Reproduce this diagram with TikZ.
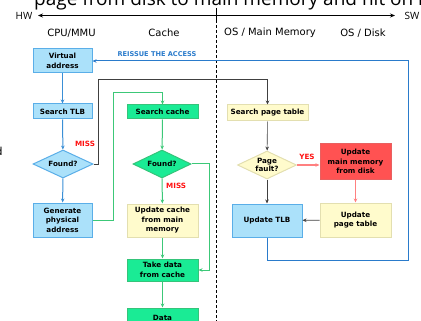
\documentclass[tikz,border=0pt]{standalone}
\usepackage{fontspec}
\setmainfont{DejaVu Sans}
\newfontfamily\titlefont{Open Sans}
\usetikzlibrary{shapes.geometric,arrows.meta}

\definecolor{tlbfill}{HTML}{ABE1FA}
\definecolor{tlbdraw}{HTML}{5AAEE8}
\definecolor{tlbline}{HTML}{3A8FD6}
\definecolor{cachefill}{HTML}{1AEB95}
\definecolor{cachedraw}{HTML}{35C47A}
\definecolor{cacheline}{HTML}{3CC878}
\definecolor{memfill}{HTML}{FFFBCC}
\definecolor{memdraw}{HTML}{E3DFB0}
\definecolor{diskfill}{HTML}{FF5252}
\definecolor{diskdraw}{HTML}{E86060}
\definecolor{diskline}{HTML}{FF8080}
\definecolor{ctrlline}{HTML}{404040}
\definecolor{reissue}{HTML}{2A7BCB}
\definecolor{misscol}{HTML}{FF1010}

\tikzset{
  boxfont/.style={font=\fontsize{7.2}{9.5}\selectfont\bfseries},
  box/.style={rectangle, line width=1pt, inner sep=0pt, align=center, boxfont},
  tlbbox/.style={box, fill=tlbfill, draw=tlbdraw},
  cachebox/.style={box, fill=cachefill, draw=cachedraw},
  membox/.style={box, fill=memfill, draw=memdraw},
  diskbox/.style={box, fill=diskfill, draw=diskdraw},
  decision/.style={diamond, shape aspect=2, inner sep=0pt, line width=1pt,
    minimum width=60pt, minimum height=28pt, align=center,
    font=\fontsize{7.2}{8.5}\selectfont\bfseries},
  tip/.style={-{Stealth[length=4pt,width=3.5pt]}},
  blueflow/.style={tip, draw=tlbline, line width=1pt},
  greenflow/.style={tip, draw=cacheline, line width=1pt},
  ctrlflow/.style={tip, draw=ctrlline, line width=0.6pt},
  diskflow/.style={tip, draw=diskline, line width=1pt},
  reissueflow/.style={tip, draw=reissue, line width=1pt},
  tag/.style={font=\fontsize{7.2}{8}\selectfont\bfseries, text=misscol, inner sep=0pt},
  column/.style={font=\fontsize{10}{10}\selectfont, inner sep=0pt},
}

\begin{document}
\begin{tikzpicture}[x=1pt, y=-1pt]
\useasboundingbox (0,0) rectangle (421,321);
\clip (0,0) rectangle (421,321);

% heading line, HW/SW axis and the hardware/software divider
\node[anchor=base west, inner sep=0pt, font=\titlefont\fontsize{19}{19}\selectfont]
  (title) at (34,5.5) {page from disk to main memory and hit on reissue};
\node[inner sep=0pt, font=\titlefont\fontsize{10}{10}\selectfont] (hw) at (24,15.5) {HW};
\node[inner sep=0pt, font=\titlefont\fontsize{10}{10}\selectfont] (sw) at (412,15.5) {SW};
\coordinate (hwtip) at (38,15.5);
\coordinate (swtip) at (395,15.5);
\draw[line width=1pt, {Stealth[length=5pt,width=4pt]}-{Stealth[length=5pt,width=4pt]}] (hwtip) -- (swtip);
\coordinate (ticktop) at (216.5,8);
\coordinate (tickbot) at (216.5,20);
\coordinate (divbot) at (216.5,321);
\draw[line width=1pt] (ticktop) -- (tickbot);
\draw[line width=1pt, dash pattern=on 3pt off 2pt] (tickbot) -- (divbot);
\node[anchor=base east, inner sep=0pt, font=\fontsize{11}{11}\selectfont] (edge) at (2.8,155) {d};

% column headings
\node[column] (c1) at (71.5,33) {CPU/MMU};
\node[column] (c2) at (164,33) {Cache};
\node[column] (c3) at (270,33) {OS / Main Memory};
\node[column] (c4) at (363,33) {OS / Disk};

% CPU / MMU column
\node[tlbbox, minimum width=59pt, minimum height=24pt] (va) at (62.5,61) {Virtual\\address};
\node[tlbbox, minimum width=59pt, minimum height=15pt] (stlb) at (62.5,111.5) {Search TLB};
\node[decision, fill=tlbfill, draw=tlbdraw] (ftlb) at (63,164) {Found?};
\node[tlbbox, minimum width=59pt, minimum height=34pt] (gen) at (62.5,220) {Generate\\physical\\address};

% cache column
\node[cachebox, minimum width=71pt, minimum height=14pt] (sc) at (162.5,112) {Search cache};
\node[decision, fill=cachefill, draw=cachedraw, minimum width=58pt] (fc) at (162,164) {Found?};
\node[membox, minimum width=71pt, minimum height=33pt] (uc) at (162.5,220.5) {Update cache\\from main\\memory};
\node[cachebox, minimum width=71pt, minimum height=22pt] (td) at (162.5,270) {Take data\\from cache};
\node[cachebox, minimum width=71pt, minimum height=20pt] (data) at (162.5,318) {Data};

% OS columns
\node[membox, minimum width=81pt, minimum height=16pt] (spt) at (267.5,113) {Search page table};
\node[decision, fill=memfill, draw=memdraw, minimum width=59pt] (pf) at (267,165) {Page\\fault?};
\node[diskbox, minimum width=71pt, minimum height=35pt] (umm) at (355.5,161.5) {Update\\main memory\\from disk};
\node[membox, minimum width=71pt, minimum height=34pt] (upt) at (355.5,220) {Update\\page table};
\node[tlbbox, minimum width=70pt, minimum height=33pt] (utlb) at (267,220.5) {Update TLB};

% TLB path
\draw[blueflow] (va) -- (stlb);
\draw[blueflow] (stlb) -- (ftlb);
\draw[blueflow] (ftlb) -- (gen);
\coordinate (tlbmiss) at (98,79);
\draw[ctrlflow] (ftlb.east) -| (tlbmiss) -| (spt.north);
\node[tag] (miss1) at (85,144) {MISS};

% cache path
\coordinate (cacheloop) at (113,93);
\draw[greenflow] (gen.east) -| (cacheloop) -| (sc.north);
\draw[greenflow] (sc) -- (fc);
\draw[greenflow] (fc) -- (uc);
\node[tag, anchor=west] (miss2) at (166,186) {MISS};
\coordinate (hitdrop) at (209,270);
\draw[greenflow] (fc.east) -| (hitdrop) -- (td.east);
\draw[greenflow] (uc) -- (td);
\draw[greenflow] (td) -- (data);

% page table path
\draw[ctrlflow] (spt) -- (pf);
\draw[ctrlflow] (pf) -- (utlb);
\draw[diskflow] (pf.east) -- (umm.west |- pf.east);
\node[tag] (yes) at (307,157) {YES};
\draw[diskflow] (umm) -- (upt);
\draw[ctrlflow] (upt) -- (utlb);

% reissue loop back to the virtual address
\coordinate (rlow) at (408,260);
\coordinate (rhigh) at (408,61);
\draw[reissueflow] (utlb.south) |- (rlow) -- (rhigh) -- (va.east);
\node[font=\fontsize{6.6}{7}\selectfont\bfseries, text=reissue, inner sep=0pt]
  (reissuetext) at (157,54) {REISSUE THE ACCESS};
\end{tikzpicture}
\end{document}
